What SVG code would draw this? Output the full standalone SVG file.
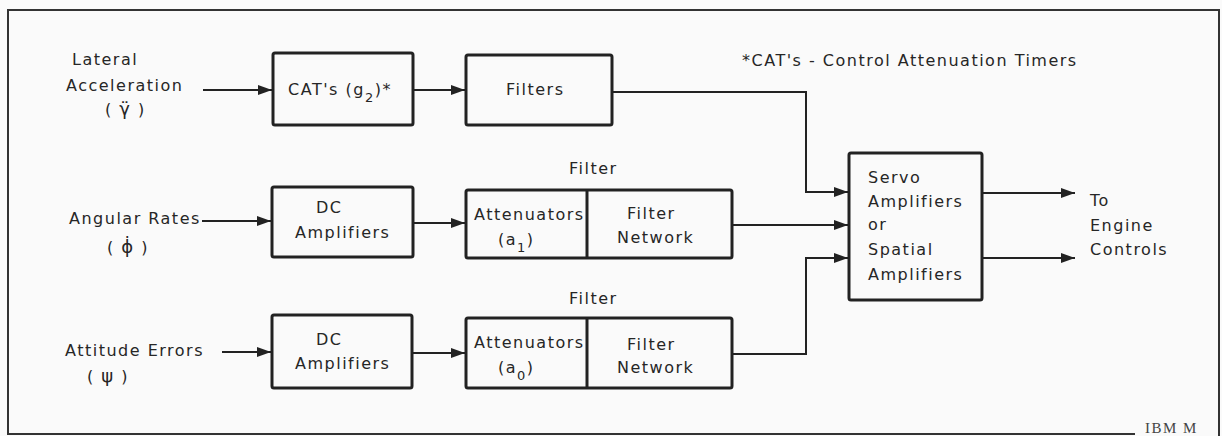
<svg xmlns="http://www.w3.org/2000/svg" width="1222" height="436" viewBox="0 0 1222 436">
<style>
.t{font-family:"DejaVu Sans","Liberation Sans",sans-serif;font-size:16px;letter-spacing:1.5px;fill:#262626}
.g{font-size:18px}
.box{fill:none;stroke:#222;stroke-width:3}
.ln{fill:none;stroke:#222;stroke-width:2}
.sub{font-size:13px}
</style>
<defs>
<marker id="ah" markerUnits="userSpaceOnUse" markerWidth="15" markerHeight="11" refX="14" refY="5.5" orient="auto">
<path d="M0,0.5 L14,5.5 L0,10.5 z" fill="#222"/>
</marker>
</defs>
<rect x="0" y="0" width="1222" height="436" fill="#fafafa"/>
<path d="M1135,434 H8 V10 H1219 V436" fill="none" stroke="#333" stroke-width="2"/>

<g id="in-lateral">
<text class="t" x="72" y="65">Lateral</text>
<text class="t" x="66" y="91">Acceleration</text>
<text class="t" x="105" y="115">( <tspan class="g">γ̈</tspan> )</text>
</g>
<g id="in-angular">
<text class="t" x="69" y="224">Angular Rates</text>
<text class="t" x="107" y="253">( <tspan class="g">ϕ̇</tspan> )</text>
</g>
<g id="in-attitude">
<text class="t" x="65" y="356">Attitude Errors</text>
<text class="t" x="87" y="382">( <tspan class="g">ψ</tspan> )</text>
</g>

<g id="cats">
<rect class="box" x="273" y="53" width="140" height="72" rx="2"/>
<text class="t" x="288" y="95">CAT's (g<tspan class="sub" dy="7">2</tspan><tspan dy="-7">)*</tspan></text>
</g>
<g id="filters">
<rect class="box" x="466" y="55" width="146" height="70" rx="2"/>
<text class="t" x="506" y="95">Filters</text>
</g>
<g id="note">
<text class="t" x="742" y="66">*CAT's - Control Attenuation Timers</text>
</g>

<g id="dc1">
<rect class="box" x="272" y="187" width="141" height="70" rx="2"/>
<text class="t" x="316" y="213">DC</text>
<text class="t" x="295" y="238">Amplifiers</text>
</g>
<g id="filter1">
<text class="t" x="569" y="174">Filter</text>
<rect class="box" x="466" y="190" width="266" height="68" rx="2"/>
<line class="box" x1="587" y1="190" x2="587" y2="258"/>
<text class="t" x="474" y="220">Attenuators</text>
<text class="t" x="498" y="245">(a<tspan class="sub" dy="7">1</tspan><tspan dy="-7">)</tspan></text>
<text class="t" x="627" y="219">Filter</text>
<text class="t" x="617" y="243">Network</text>
</g>

<g id="dc2">
<rect class="box" x="272" y="315" width="140" height="73" rx="2"/>
<text class="t" x="316" y="345">DC</text>
<text class="t" x="295" y="369">Amplifiers</text>
</g>
<g id="filter2">
<text class="t" x="569" y="304">Filter</text>
<rect class="box" x="466" y="318" width="266" height="70" rx="2"/>
<line class="box" x1="587" y1="318" x2="587" y2="388"/>
<text class="t" x="474" y="348">Attenuators</text>
<text class="t" x="498" y="373">(a<tspan class="sub" dy="7">0</tspan><tspan dy="-7">)</tspan></text>
<text class="t" x="627" y="350">Filter</text>
<text class="t" x="617" y="373">Network</text>
</g>

<g id="servo">
<rect class="box" x="849" y="153" width="133" height="147" rx="2"/>
<text class="t" x="868" y="183">Servo</text>
<text class="t" x="868" y="207">Amplifiers</text>
<text class="t" x="868" y="230">or</text>
<text class="t" x="868" y="255">Spatial</text>
<text class="t" x="868" y="280">Amplifiers</text>
</g>
<g id="out">
<text class="t" x="1090" y="206">To</text>
<text class="t" x="1090" y="231">Engine</text>
<text class="t" x="1090" y="255">Controls</text>
</g>

<g id="connectors">
<path class="ln" d="M203,90 H272" marker-end="url(#ah)"/>
<path class="ln" d="M413,90 H465" marker-end="url(#ah)"/>
<path class="ln" d="M612,92 H806 V192 H848" marker-end="url(#ah)"/>
<path class="ln" d="M202,221 H271" marker-end="url(#ah)"/>
<path class="ln" d="M413,223 H465" marker-end="url(#ah)"/>
<path class="ln" d="M732,225 H848" marker-end="url(#ah)"/>
<path class="ln" d="M222,352 H271" marker-end="url(#ah)"/>
<path class="ln" d="M412,353 H465" marker-end="url(#ah)"/>
<path class="ln" d="M732,354 H806 V258 H848" marker-end="url(#ah)"/>
<path class="ln" d="M982,193 H1075" marker-end="url(#ah)"/>
<path class="ln" d="M982,258 H1075" marker-end="url(#ah)"/>
</g>

<text x="1145" y="433" font-family="Liberation Serif,serif" font-size="15" letter-spacing="1.5" fill="#444">IBM M</text>
</svg>
